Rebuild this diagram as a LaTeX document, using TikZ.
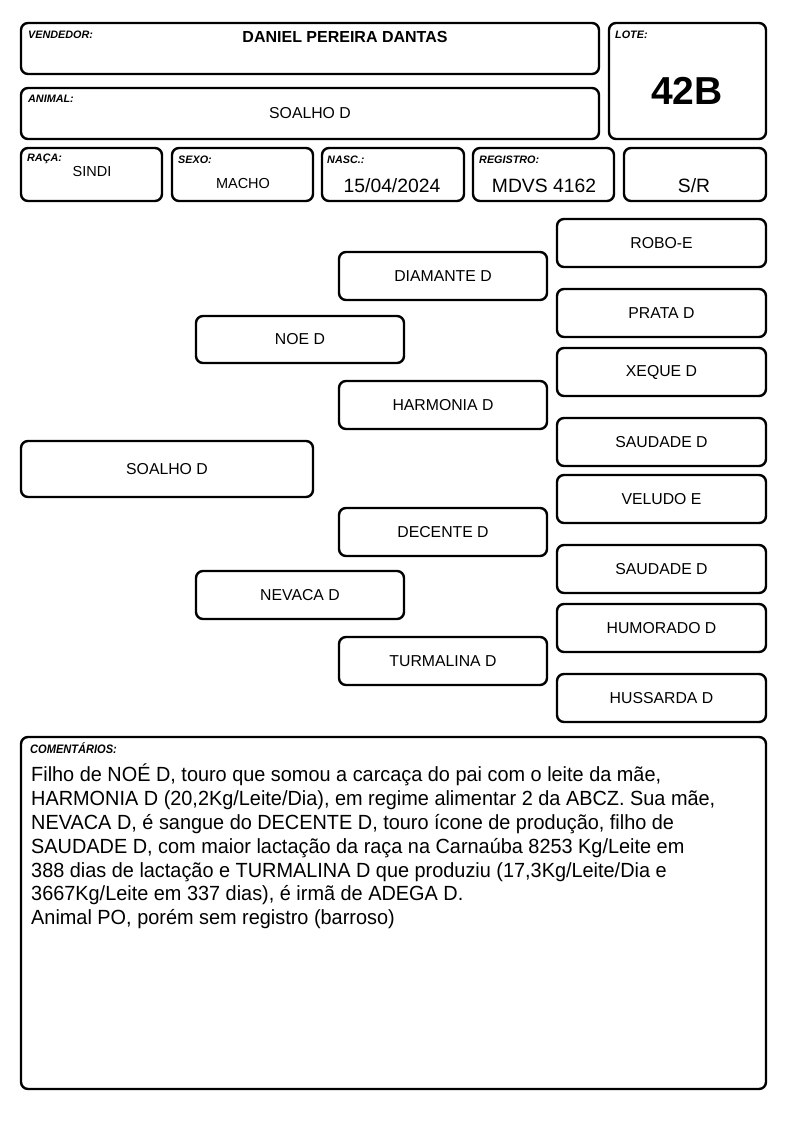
\documentclass[tikz,border=0pt]{standalone}
\usepackage{fontspec}
\setmainfont{Liberation Sans}
\newfontfamily\cmtfont[FakeStretch=0.97]{Liberation Sans}
\newfontfamily\lblfont[FakeStretch=0.9]{Liberation Sans}
\begin{document}
\begin{tikzpicture}[x=1pt,y=-1pt,
  bx/.style={draw=black, line width=2.4pt, rounded corners=7pt, fill=white, inner sep=0pt, font=\fontsize{15.8}{18}\selectfont},
  lbl/.style={anchor=west, inner sep=0pt, font=\fontsize{10.8}{12}\selectfont\bfseries\itshape},
  val/.style={inner sep=0pt, font=\fontsize{14.5}{17}\selectfont},
  bigval/.style={inner sep=0pt, font=\fontsize{19.3}{22}\selectfont}]
\useasboundingbox (0,0) rectangle (794,1123);
\fill[white] (0,0) rectangle (794,1123);
% header boxes
\node[bx, minimum width=578, minimum height=51] (vend) at (310,48.5) {};
\node[bx, minimum width=578, minimum height=51] (anim) at (310,113.5) {};
\node[bx, minimum width=157, minimum height=116] (lote) at (687.5,81) {};
\node[bx, minimum width=141, minimum height=53] (raca) at (91.5,174.5) {};
\node[bx, minimum width=141, minimum height=53] (sexo) at (242.5,174.5) {};
\node[bx, minimum width=142, minimum height=53] (nasc) at (393,174.5) {};
\node[bx, minimum width=141, minimum height=53] (reg) at (543.5,174.5) {};
\node[bx, minimum width=142, minimum height=53] (sr) at (695,174.5) {};
% labels
\node[lbl] (lvend) at (28,35) {VENDEDOR:};
\node[lbl] (lanim) at (28,99) {ANIMAL:};
\node[lbl] (llote) at (615,35) {LOTE:};
\node[lbl] (lraca) at (27,159) {RAÇA:};
\node[lbl] (lsexo) at (178,160) {SEXO:};
\node[lbl] (lnasc) at (327,160) {NASC.:};
\node[lbl] (lreg) at (479,160) {REGISTRO:};
% values
\node[inner sep=0pt, font=\fontsize{16}{18}\selectfont\bfseries] (vvend) at (345,37) {DANIEL PEREIRA DANTAS};
\node[val, font=\fontsize{15.8}{18}\selectfont] (vanim) at (310,113) {SOALHO D};
\node[inner sep=0pt, font=\fontsize{39}{44}\selectfont\bfseries] (vlote) at (687,91) {42B};
\node[val] (vraca) at (92,172) {SINDI};
\node[val] (vsexo) at (243,184) {MACHO};
\node[bigval] (vnasc) at (392,186) {15/04/2024};
\node[bigval] (vreg) at (544,186) {MDVS 4162};
\node[bigval] (vsr) at (694,186) {S/R};
% pedigree
\node[bx, minimum width=292, minimum height=56] (p0) at (167,469) {SOALHO D};
\node[bx, minimum width=208, minimum height=47] (p1) at (300,339.5) {NOE D};
\node[bx, minimum width=208, minimum height=48] (p2) at (300,595) {NEVACA D};
\node[bx, minimum width=208, minimum height=48] (p3) at (443,276) {DIAMANTE D};
\node[bx, minimum width=208, minimum height=48] (p4) at (443,405) {HARMONIA D};
\node[bx, minimum width=208, minimum height=48] (p5) at (443,532) {DECENTE D};
\node[bx, minimum width=208, minimum height=48] (p6) at (443,661) {TURMALINA D};
\node[bx, minimum width=209, minimum height=48] (p7) at (661.5,243) {ROBO-E};
\node[bx, minimum width=209, minimum height=48] (p8) at (661.5,313) {PRATA D};
\node[bx, minimum width=209, minimum height=48] (p9) at (661.5,372) {XEQUE D};
\node[bx, minimum width=209, minimum height=48] (p10) at (661.5,442) {SAUDADE D};
\node[bx, minimum width=209, minimum height=48] (p11) at (661.5,499) {VELUDO E};
\node[bx, minimum width=209, minimum height=48] (p12) at (661.5,569) {SAUDADE D};
\node[bx, minimum width=209, minimum height=48] (p13) at (661.5,628) {HUMORADO D};
\node[bx, minimum width=209, minimum height=48] (p14) at (661.5,698) {HUSSARDA D};
% comments
\node[bx, minimum width=745, minimum height=352] (cmt) at (393.5,913) {};
\node[anchor=west, inner sep=0pt, font=\lblfont\fontsize{12.3}{14}\selectfont\bfseries\itshape] (lcmt) at (30,748) {COMENTÁRIOS:};
\node[anchor=north west, inner sep=0pt, align=left, font=\cmtfont\fontsize{20.5}{23.8}\selectfont] (tcmt) at (31,764) {Filho de NOÉ D, touro que somou a carcaça do pai com o leite da mãe,\\
HARMONIA D (20,2Kg/Leite/Dia), em regime alimentar 2 da ABCZ. Sua mãe,\\
NEVACA D, é sangue do DECENTE D, touro ícone de produção, filho de\\
SAUDADE D, com maior lactação da raça na Carnaúba 8253 Kg/Leite em\\
388 dias de lactação e TURMALINA D que produziu (17,3Kg/Leite/Dia e\\
3667Kg/Leite em 337 dias), é irmã de ADEGA D.\\
Animal PO, porém sem registro (barroso)};
\end{tikzpicture}
\end{document}
